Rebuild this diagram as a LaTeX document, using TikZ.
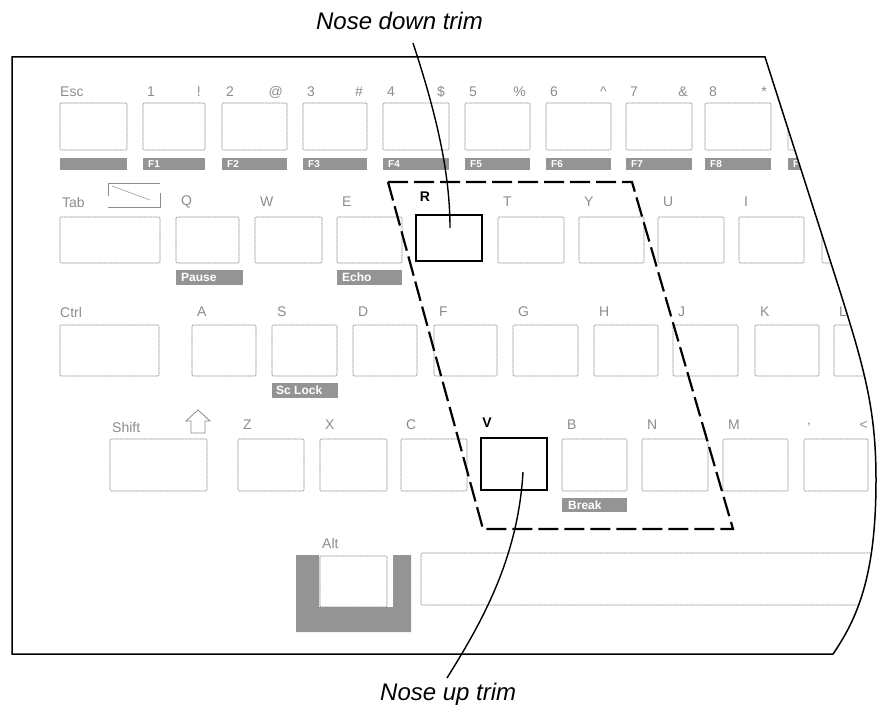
\documentclass[tikz,border=0pt]{standalone}
\usepackage{fontspec}
\setmainfont{Liberation Sans}
\usetikzlibrary{calc}
\begin{document}
\begin{tikzpicture}[x=1pt,y=-1pt,
  keybox/.style={draw=black!45, line width=0.6pt, dash pattern=on 1.2pt off 0.5pt, rounded corners=1pt},
  hikey/.style={draw=black, line width=1.4pt, fill=white, inner sep=0pt},
  klabel/.style={text=black!45, font=\fontsize{14}{16}\selectfont, inner sep=0pt},
  hilabel/.style={text=black, font=\bfseries\fontsize{14}{16}\selectfont, inner sep=0pt},
  fbar/.style={fill=black!42},
  ftext/.style={text=white, font=\bfseries\fontsize{10}{12}\selectfont, inner sep=0pt, anchor=west},
  caption/.style={font=\itshape\fontsize{24}{28}\selectfont, inner sep=0pt},
  leader/.style={draw=black, line width=1.4pt},
  outline/.style={draw=black, line width=1.5pt},
  trimzone/.style={draw=black, line width=2.2pt, dash pattern=on 20pt off 6pt},
  symline/.style={draw=black!45, line width=0.8pt},
]
\useasboundingbox (0,0) rectangle (879,711);

\begin{scope}
\clip (12,57) -- (765,57) -- (838,285) .. controls (865,370) and (876,410) .. (876,480) .. controls (876,570) and (860,615) .. (833,654) -- (12,654) -- cycle;

% ---- row 1 (numbers) ----
\draw[keybox] (60,103) rectangle (127,150);
\node[klabel, anchor=west] (lesc) at (60,92) {Esc};
\fill[fbar] (60,158) rectangle (127,170);
\foreach \a/\b/\l/\s/\f in {143/205/1/!/F1, 222/287/2/@/F2, 303/367/3/\#/F3, 383/449/4/\$/F4,
  465/530/5/\%/F5, 546/611/6/\textasciicircum/F6, 626/692/7/\&/F7, 705/771/8/*/F8, 788/853/9/(/F9}{
  \draw[keybox] (\a,103) rectangle (\b,150);
  \node[klabel, anchor=west] (d\a) at (\a+4,92) {\l};
  \node[klabel, anchor=east] (s\a) at (\b-4,92) {\s};
  \fill[fbar] (\a,158) rectangle (\b,170);
  \node[ftext] (f\a) at (\a+5,164.5) {\f};
}

% ---- row 2 (Tab) ----
\draw[keybox] (60,217) rectangle (160,263);
\node[klabel, anchor=west] (ltab) at (62,202) {Tab};
\draw[symline] (108,196) -- (108,183) -- (160,183);
\draw[symline] (108,207) -- (160,207) -- (160,193);
\draw[symline, line width=0.5pt] (112,186) -- (150,200);
\foreach \a/\b/\l in {176/239/Q, 255/322/W, 337/402/E, 498/564/T, 579/644/Y, 658/724/U, 739/804/I, 822/888/O}{
  \draw[keybox] (\a,217) rectangle (\b,263);
  \node[klabel, anchor=west] (r2\a) at (\a+5,202) {\l};
}
\fill[fbar] (176,270) rectangle (243,285);
\node[ftext, font=\bfseries\fontsize{12}{14}\selectfont] (pause) at (181,277.5) {Pause};
\fill[fbar] (337,270) rectangle (402,285);
\node[ftext, font=\bfseries\fontsize{12}{14}\selectfont] (echo) at (342,277.5) {Echo};

% ---- row 3 (Ctrl) ----
\draw[keybox] (60,325) rectangle (159,376);
\node[klabel, anchor=west] (lctrl) at (60,312) {Ctrl};
\foreach \a/\b/\l in {192/256/A, 272/337/S, 353/417/D, 434/497/F, 513/578/G, 594/658/H, 673/738/J, 755/819/K, 834/898/L}{
  \draw[keybox] (\a,325) rectangle (\b,376);
  \node[klabel, anchor=west] (r3\a) at (\a+5,312) {\l};
}
\fill[fbar] (272,383) rectangle (338,398);
\node[ftext, font=\bfseries\fontsize{12}{14}\selectfont] (sclock) at (276,390.5) {Sc Lock};

% ---- row 4 (Shift) ----
\draw[keybox] (110,439) rectangle (207,491);
\node[klabel, anchor=west] (lshift) at (112,427) {Shift};
\draw[symline] (191,433) -- (191,421) -- (186,421) -- (198,410) -- (210,421) -- (205,421) -- (205,433) -- cycle;
\foreach \a/\b/\l in {238/304/Z, 320/387/X, 401/467/C, 562/627/B, 642/708/N, 723/788/M}{
  \draw[keybox] (\a,439) rectangle (\b,491);
  \node[klabel, anchor=west] (r4\a) at (\a+5,425) {\l};
}
\draw[keybox] (804,439) rectangle (868,491);
\node[klabel, anchor=west] (lcomma) at (807,425) {,};
\node[klabel, anchor=east] (lless) at (868,425) {<};
\fill[fbar] (562,498) rectangle (627,512);
\node[ftext, font=\bfseries\fontsize{12}{14}\selectfont] (brk) at (568,505) {Break};

% ---- row 5 (Alt, space) ----
\fill[fbar] (296,555) -- (319,555) -- (319,607) -- (393,607) -- (393,555) -- (411,555) -- (411,632) -- (296,632) -- cycle;
\draw[keybox] (320,556) rectangle (387,607);
\node[klabel, anchor=west] (lalt) at (322,543) {Alt};
\draw[keybox] (421,553) rectangle (900,605);
\end{scope}

% keyboard outline
\draw[outline] (12,57) -- (765,57) -- (838,285) .. controls (865,370) and (876,410) .. (876,480) .. controls (876,570) and (860,615) .. (833,654) -- (12,654) -- cycle;

% trim zone
\draw[trimzone] (388,182) -- (632,182) -- (733,529) -- (483,529) -- cycle;

% highlighted keys
\node[hikey, minimum width=66pt, minimum height=46pt] (Rkey) at (449,238) {};
\node[hilabel] (Rlbl) at (425,197) {R};
\node[hikey, minimum width=66pt, minimum height=52pt] (Vkey) at (514,464) {};
\node[hilabel] (Vlbl) at (487,423) {V};

% captions and leaders
\node[caption, anchor=base east] (downlbl) at (483,30) {Nose down trim};
\node[caption, anchor=base west] (uplbl) at (380,700) {Nose up trim};
\coordinate (dtop) at (413,43);
\coordinate (ubot) at (447,678);
\draw[leader] (dtop) .. controls (435,110) and (450,170) .. ($(Rkey.center)+(1,-10)$);
\draw[leader] ($(Vkey.center)+(9,8)$) .. controls (518,560) and (480,625) .. (ubot);
\end{tikzpicture}
\end{document}
